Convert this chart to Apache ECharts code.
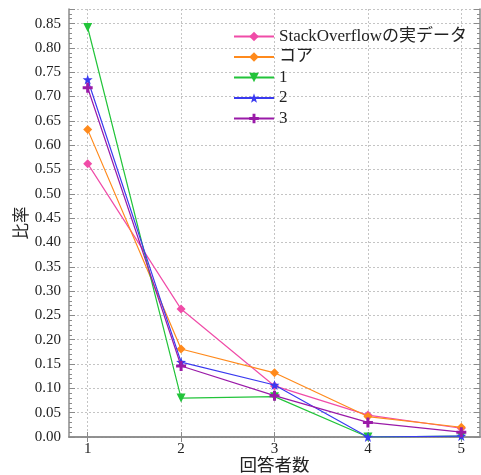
<!DOCTYPE html>
<html>
<head>
<meta charset="utf-8">
<script src="https://cdn.jsdelivr.net/npm/echarts@6/dist/echarts.min.js"></script>
<style>
  html, body { margin: 0; padding: 0; background: #fff; }
  #chart { width: 481px; height: 475px; }
</style>
</head>
<body>
<div id="chart"></div>
<script>
// 回答者数ごとの比率
var answerCounts = [1, 2, 3, 4, 5];
var seriesNames = ['StackOverflowの実データ', 'コア', '1', '2', '3'];
var realData = [0.562, 0.263, 0.105, 0.045, 0.018];
var coreData = [0.632, 0.181, 0.132, 0.042, 0.020];
var model1 = [0.842, 0.080, 0.083, 0.000, 0.002];
var model2 = [0.735, 0.154, 0.107, 0.000, 0.002];
var model3 = [0.718, 0.146, 0.085, 0.030, 0.010];

var colors = ['#f04ca8', '#ff8a1c', '#22c43a', '#3a3af0', '#9a1aa8'];
var symbols = [
  'diamond',
  'diamond',
  'triangle',
  'path://M0,-10L2.35,-3.24L9.51,-3.09L3.8,1.24L5.88,8.09L0,4L-5.88,8.09L-3.8,1.24L-9.51,-3.09L-2.35,-3.24Z',
  'path://M-3,-10L3,-10L3,-3L10,-3L10,3L3,3L3,10L-3,10L-3,3L-10,3L-10,-3L-3,-3Z'
];
var symbolSizes = [9, 9, 9, 10, 10];
var symbolRotate = [0, 0, 180, 0, 0];

function pairs(arr) {
  return answerCounts.map(function (x, i) { return [x, arr[i]]; });
}

var allData = [realData, coreData, model1, model2, model3];

var serif = 'Liberation Serif';
var axisGrey = '#8a8a8a';

var series = allData.map(function (d, i) {
  return {
    name: seriesNames[i],
    type: 'line',
    data: pairs(d),
    symbol: symbols[i],
    symbolSize: symbolSizes[i],
    symbolRotate: symbolRotate[i],
    showAllSymbol: true,
    lineStyle: { color: colors[i], width: 1.2 },
    itemStyle: { color: colors[i] },
    z: 2 + i
  };
});

var chart = echarts.init(document.getElementById('chart'));
chart.setOption({
  backgroundColor: '#ffffff',
  animation: false,
  color: colors,
  grid: { left: 69, top: 9, right: 1, bottom: 38, outerBoundsMode: 'none', containLabel: false },
  legend: {
    orient: 'vertical',
    left: 228,
    top: 23,
    itemWidth: 40,
    itemHeight: 12,
    itemGap: 3.5,
    textStyle: { fontFamily: serif + ', Noto Sans CJK JP', fontSize: 17, color: '#222' },
    data: seriesNames
  },
  xAxis: [{
    type: 'value',
    min: 0.8,
    max: 5.2,
    name: '回答者数',
    nameLocation: 'middle',
    nameGap: 19,
    nameMoveOverlap: false,
    nameTextStyle: { fontFamily: 'Noto Sans CJK JP', fontSize: 17.5, color: '#222' },
    axisLine: { show: true, lineStyle: { color: axisGrey, width: 1.5 } },
    axisTick: { inside: true, length: 5, customValues: answerCounts, lineStyle: { color: axisGrey } },
    axisLabel: {
      fontFamily: serif, fontSize: 15, color: '#222', margin: 5,
      customValues: answerCounts
    },
    splitLine: { show: true, lineStyle: { color: '#c4c4c4', type: [2, 2] } }
  }, {
    type: 'value',
    position: 'top',
    min: 0.8,
    max: 5.2,
    axisLine: { show: true, lineStyle: { color: axisGrey, width: 1.5 } },
    axisTick: { inside: true, length: 5, customValues: answerCounts, lineStyle: { color: axisGrey } },
    axisLabel: { show: false },
    splitLine: { show: false }
  }],
  yAxis: [{
    type: 'value',
    min: 0,
    max: 0.88,
    interval: 0.05,
    name: '比率',
    nameLocation: 'middle',
    nameGap: 40,
    nameMoveOverlap: false,
    nameTextStyle: { fontFamily: 'Noto Sans CJK JP', fontSize: 16.5, color: '#222' },
    axisLine: { show: true, lineStyle: { color: axisGrey, width: 1.5 } },
    axisTick: { inside: true, length: 6, lineStyle: { color: axisGrey } },
    minorTick: { show: true, splitNumber: 5, length: 3, lineStyle: { color: axisGrey } },
    axisLabel: {
      fontFamily: serif, fontSize: 15, color: '#222', margin: 8,
      showMaxLabel: false,
      formatter: function (v) { return v.toFixed(2); }
    },
    splitLine: { show: true, lineStyle: { color: '#c4c4c4', type: [2, 2] } }
  }, {
    type: 'value',
    position: 'right',
    min: 0,
    max: 0.88,
    interval: 0.05,
    axisLine: { show: true, lineStyle: { color: axisGrey, width: 1.5 } },
    axisTick: { inside: true, length: 6, lineStyle: { color: axisGrey } },
    minorTick: { show: true, splitNumber: 5, length: 3, lineStyle: { color: axisGrey } },
    axisLabel: { show: false },
    splitLine: { show: false }
  }],
  series: series
});
</script>
</body>
</html>
